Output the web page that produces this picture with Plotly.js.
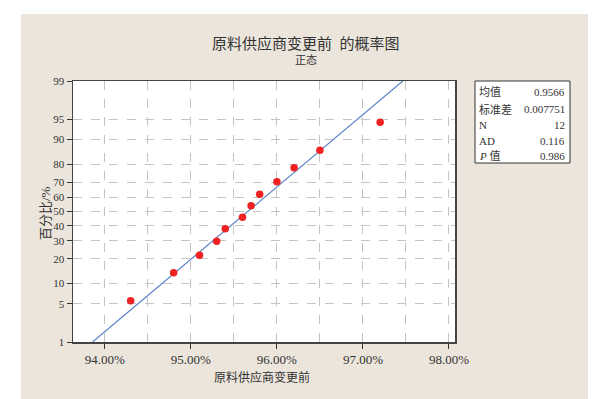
<!DOCTYPE html>
<html>
<head>
<meta charset="utf-8">
<script src="https://cdn.plot.ly/plotly-3.0.1.min.js"></script>
<style>
html,body{margin:0;padding:0;background:#ffffff;width:599px;height:399px;overflow:hidden;}
#chart{position:absolute;left:21px;top:14px;width:567px;height:385px;}
</style>
</head>
<body>
<div id="chart"></div>
<script>
// Data (values in %)
var xValues = [94.3, 94.8, 95.1, 95.3, 95.4, 95.6, 95.7, 95.8, 96.0, 96.2, 96.5, 97.2];
var percentValues = [5.6, 13.7, 21.8, 29.8, 37.9, 46.0, 54.0, 62.1, 70.2, 78.2, 86.3, 94.4];
var yTickLabels = [1, 5, 10, 20, 30, 40, 50, 60, 70, 80, 90, 95, 99];
var xTickValues = [94, 95, 96, 97, 98];
var statLabels = ['均值', '标准差', 'N', 'AD', '<i>P</i> 值'];
var statValues = ['0.9566', '0.007751', '12', '0.116', '0.986'];
var fitMean = 95.66;   // %
var fitSd = 0.7751;    // %
var fitEnds = [1, 99]; // percent range of fitted line

// inverse normal CDF (Acklam)
function invNorm(p){
  var a=[-3.969683028665376e+01,2.209460984245205e+02,-2.759285104469687e+02,1.383577518672690e+02,-3.066479806614716e+01,2.506628277459239e+00];
  var b=[-5.447609879822406e+01,1.615858368580409e+02,-1.556989798598866e+02,6.680131188771972e+01,-1.328068155288572e+01];
  var c=[-7.784894002430293e-03,-3.223964580411365e-01,-2.400758277161838e+00,-2.549732539343734e+00,4.374664141464968e+00,2.938163982698783e+00];
  var d=[7.784695709041462e-03,3.224671290700398e-01,2.445134137142996e+00,3.754408661907416e+00];
  var pl=0.02425,q,r;
  if(p<pl){q=Math.sqrt(-2*Math.log(p));return (((((c[0]*q+c[1])*q+c[2])*q+c[3])*q+c[4])*q+c[5])/((((d[0]*q+d[1])*q+d[2])*q+d[3])*q+1);}
  if(p<=1-pl){q=p-0.5;r=q*q;return (((((a[0]*r+a[1])*r+a[2])*r+a[3])*r+a[4])*r+a[5])*q/(((((b[0]*r+b[1])*r+b[2])*r+b[3])*r+b[4])*r+1);}
  q=Math.sqrt(-2*Math.log(1-p));return -(((((c[0]*q+c[1])*q+c[2])*q+c[3])*q+c[4])*q+c[5])/((((d[0]*q+d[1])*q+d[2])*q+d[3])*q+1);
}
var z = function(pct){return invNorm(pct/100);};

var pointsTrace = {
  x: xValues, y: percentValues.map(z), type:'scatter', mode:'markers',
  marker:{color:'#ee2222', size:7.5}, hoverinfo:'skip'
};
var lineTrace = {
  x: fitEnds.map(function(p){return fitMean + z(p)*fitSd;}),
  y: fitEnds.map(z), type:'scatter', mode:'lines',
  line:{color:'#5b82c8', width:1.2}, hoverinfo:'skip'
};

// page pixel -> paper coords
var divL=21, divT=14, mL=52, mT=67, pw=382, ph=261;
function px(X){return (X-divL-mL)/pw;}
function py(Y){return 1-(Y-divT-mT)/ph;}

var serif = 'Liberation Serif, "Noto Sans CJK SC", serif';
var annotations = [
  {text:'原料供应商变更前  的概率图', x:px(306), y:py(43), xref:'paper', yref:'paper', showarrow:false, font:{family:serif, size:15, color:'#333'}, xanchor:'center', yanchor:'middle'},
  {text:'正态', x:px(306), y:py(60), xref:'paper', yref:'paper', showarrow:false, font:{family:serif, size:11, color:'#333'}, xanchor:'center', yanchor:'middle'},
  {text:'百分比/%', x:px(45), y:py(213), xref:'paper', yref:'paper', showarrow:false, textangle:-90, font:{family:serif, size:13, color:'#333'}, xanchor:'center', yanchor:'middle'},
  {text:'原料供应商变更前', x:px(262), y:py(377), xref:'paper', yref:'paper', showarrow:false, font:{family:serif, size:12, color:'#333'}, xanchor:'center', yanchor:'middle'}
];
var rowY = [92, 109, 125, 141, 156];
for (var i=0;i<statLabels.length;i++){
  annotations.push({text:statLabels[i], x:px(477), y:py(rowY[i]), xref:'paper', yref:'paper', showarrow:false, xanchor:'left', yanchor:'middle', font:{family:serif, size:11, color:'#333'}});
  annotations.push({text:statValues[i], x:px(567), y:py(rowY[i]), xref:'paper', yref:'paper', showarrow:false, xanchor:'right', yanchor:'middle', font:{family:serif, size:11, color:'#333'}});
}

var layout = {
  width:567, height:385,
  margin:{l:mL, r:133, t:mT, b:57},
  paper_bgcolor:'#ebe5dc', plot_bgcolor:'#ffffff',
  showlegend:false,
  xaxis:{
    range:[93.63, 98.07], tickvals:xTickValues, ticktext:xTickValues.map(function(v){return v.toFixed(2)+'%';}),
    ticks:'outside', ticklen:5, tickcolor:'#333',
    showgrid:true, gridcolor:'#c4c4c4', griddash:'dash', gridwidth:1,
    minor:{dtick:0.5, tick0:94, showgrid:true, gridcolor:'#c4c4c4', griddash:'dash', gridwidth:1},
    showline:true, linecolor:'#444', linewidth:1.5, mirror:true, zeroline:false,
    tickfont:{family:serif, size:13, color:'#333'}
  },
  yaxis:{
    range:[z(1), z(99)], tickvals:yTickLabels.map(z), ticktext:yTickLabels.map(String),
    ticks:'outside', ticklen:5, tickcolor:'#333',
    showgrid:true, gridcolor:'#c4c4c4', griddash:'dash', gridwidth:1,
    showline:true, linecolor:'#444', linewidth:1.5, mirror:true, zeroline:false,
    tickfont:{family:serif, size:11, color:'#333'}
  },
  shapes:[
    {type:'rect', xref:'paper', yref:'paper', x0:px(475), x1:px(570), y0:py(81), y1:py(163), line:{color:'#333', width:1}, fillcolor:'#ffffff', layer:'below'}
  ],
  annotations:annotations
};

Plotly.newPlot('chart', [lineTrace, pointsTrace], layout, {staticPlot:true, displayModeBar:false});
</script>
</body>
</html>
